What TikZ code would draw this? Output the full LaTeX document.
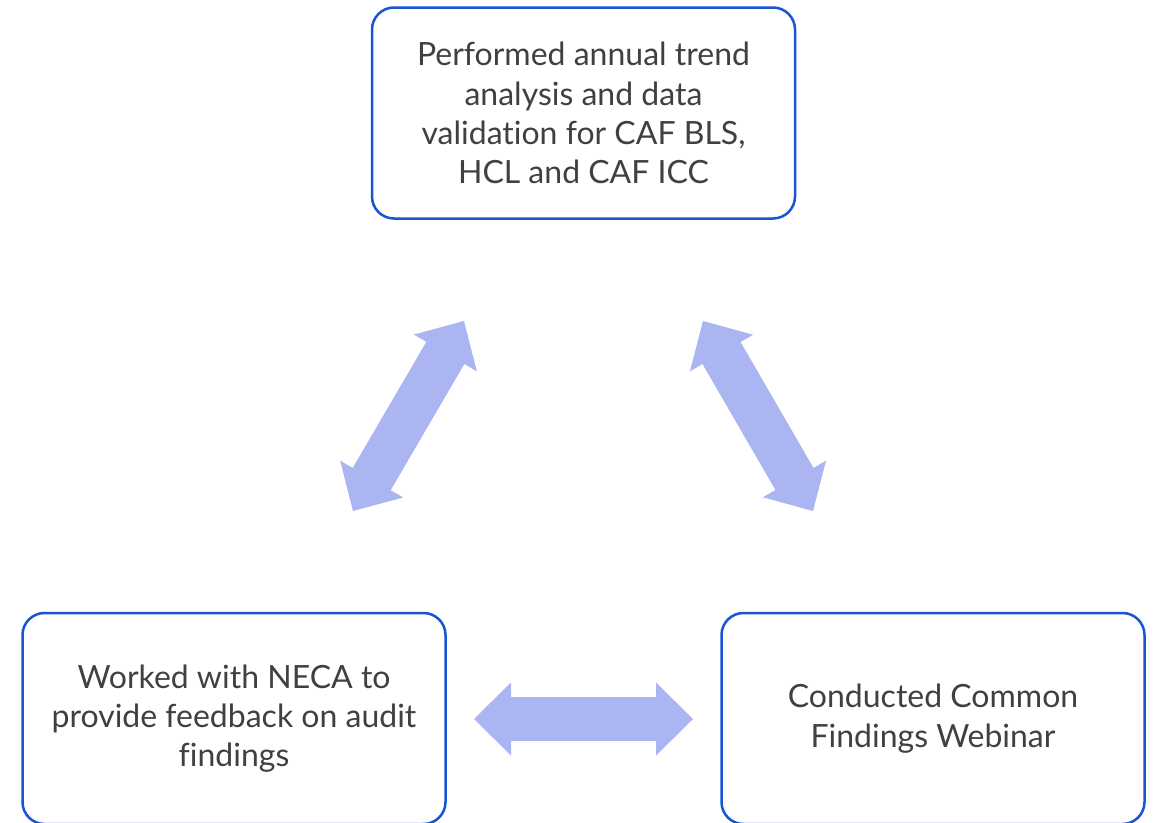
\documentclass[tikz,border=0pt]{standalone}
\usepackage{fontspec}
\setmainfont{Lato}[Ligatures={NoCommon}]
\usetikzlibrary{calc}
\definecolor{boxline}{RGB}{24,84,212}
\definecolor{boxtext}{RGB}{64,64,64}
\definecolor{arrowfill}{RGB}{170,181,242}
\tikzset{
  stepbox/.style={draw=boxline, line width=2.5pt, rounded corners=22pt,
    minimum width=423pt, minimum height=211pt, align=center,
    text=boxtext, font=\fontsize{32}{39.3}\selectfont, inner sep=0pt},
}
% block double arrow between two tip coordinates
\newcommand\blockarrow[2]{%
  \fill[arrowfill]
    (#1)
    -- ($(#1)!37pt!(#2)!36.5pt!90:(#2)$)
    -- ($(#1)!37pt!(#2)!22pt!90:(#2)$)
    -- ($(#2)!37pt!(#1)!22pt!-90:(#1)$)
    -- ($(#2)!37pt!(#1)!36.5pt!-90:(#1)$)
    -- (#2)
    -- ($(#2)!37pt!(#1)!36.5pt!90:(#1)$)
    -- ($(#2)!37pt!(#1)!22pt!90:(#1)$)
    -- ($(#1)!37pt!(#2)!22pt!-90:(#2)$)
    -- ($(#1)!37pt!(#2)!36.5pt!-90:(#2)$)
    -- cycle;}
\begin{document}
\begin{tikzpicture}[x=1pt,y=-1pt]
  \useasboundingbox (0,0) rectangle (1153,822);
  \begin{scope}
    \clip (0,0) rectangle (1153,822);
    \node[stepbox] (trend) at (583.5,113)
      {Performed annual trend\\analysis and data\\validation for CAF BLS,\\HCL and CAF ICC};
    \node[stepbox] (neca) at (234,718.5)
      {Worked with NECA to\\provide feedback on audit\\findings};
    \node[stepbox] (webinar) at (933,718.5)
      {Conducted Common\\Findings Webinar};
  \end{scope}
  % arrow tips
  \coordinate (lt) at (464,321);
  \coordinate (lb) at (353,511);
  \coordinate (rt) at (703,321);
  \coordinate (rb) at (813,511);
  \coordinate (hl) at (474,719);
  \coordinate (hr) at (693,719);
  \blockarrow{lb}{lt}
  \blockarrow{rt}{rb}
  \blockarrow{hl}{hr}
\end{tikzpicture}
\end{document}
